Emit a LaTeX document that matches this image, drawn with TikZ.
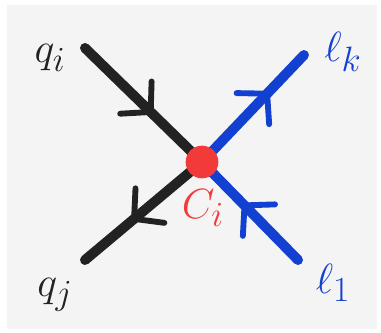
\documentclass[tikz,border=0pt]{standalone}
\usetikzlibrary{arrows.meta,decorations.markings,backgrounds}
\definecolor{quarkblack}{HTML}{222222}
\definecolor{leptonblue}{HTML}{1240D0}
\definecolor{vertexred}{HTML}{F23A3A}
\definecolor{paper}{HTML}{F4F4F4}
\begin{document}
\begin{tikzpicture}[x=0.03cm, y=-0.03cm,
	leg/.style={line width=8.5pt, line cap=round},
	midarrow/.style={postaction={decorate}, decoration={markings, mark=at position #1 with {\arrow{Straight Barb[length=0.62cm, width=1.35cm, line width=5pt, round]}}}},
	lab/.style={font=\Huge, scale=1.45}]
			\useasboundingbox (0,0) rectangle (381,333);
			\coordinate (qi) at (85,48);
			\coordinate (qj) at (85,260);
			\coordinate (lk) at (304,55);
			\coordinate (l1) at (298,260);
			\node[circle, inner sep=0pt, minimum size=0.98cm, fill=vertexred](ci) at (202,162){};
			\begin{scope}[on background layer]
			\fill[paper] (7,5) rectangle (377,329);
			\draw[leg, quarkblack, midarrow=0.58] (qi) -- (ci.center);
			\draw[leg, quarkblack, midarrow=0.6] (ci.center) -- (qj);
			\draw[leg, leptonblue, midarrow=0.66] (ci.center) -- (lk);
			\draw[leg, leptonblue, midarrow=0.58] (l1) -- (ci.center);
			\end{scope}
			\node[lab, text=quarkblack](qilab) at (50,58){$q_i$};
			\node[lab, text=quarkblack](qjlab) at (55,295){$q_j$};
			\node[lab, text=leptonblue](lklab) at (343,52){$\ell_k$};
			\node[lab, text=leptonblue](l1lab) at (333,283){$\ell_1$};
			\node[lab, text=vertexred](cilab) at (203,208){$C_i$};
			\end{tikzpicture}
\end{document}
